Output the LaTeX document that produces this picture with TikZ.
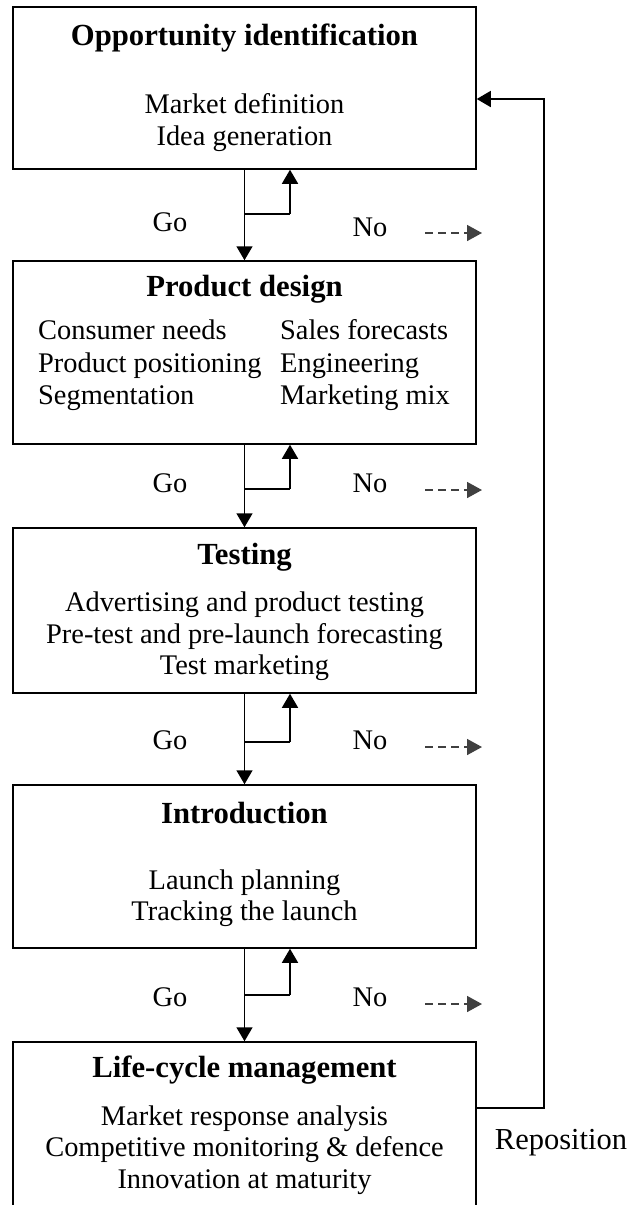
\documentclass[tikz,border=0pt]{standalone}
\usepackage{fontspec}
\setmainfont{Liberation Serif}
\usetikzlibrary{arrows.meta}
\begin{document}
\begin{tikzpicture}[x=1pt,y=-1pt,
  stage/.style={draw, line width=1.5pt, minimum width=463pt, inner sep=0pt},
  ttl/.style={font=\fontsize{30.7}{34}\selectfont\bfseries, inner sep=0pt},
  body/.style={font=\fontsize{28.4}{31.5}\selectfont, align=center, inner sep=0pt},
  col/.style={font=\fontsize{28.4}{32.5}\selectfont, align=left, inner sep=0pt, anchor=west},
  lbl/.style={font=\fontsize{28.4}{31.5}\selectfont, inner sep=0pt},
  flow/.style={line width=1.5pt, -{Triangle[length=14pt,width=16pt]}},
  link/.style={line width=1.5pt},
  noarrow/.style={line width=1.6pt, dash pattern=on 8pt off 5pt, -{Triangle[length=15pt,width=16pt]}, black!75}
]
\useasboundingbox (0,0) rectangle (630,1205);
\clip (0,0) rectangle (630,1205);

% stage boxes
\node[stage, minimum height=162pt] (b1) at (244.5,88) {};
\node[stage, minimum height=183pt] (b2) at (244.5,352.5) {};
\node[stage, minimum height=165pt] (b3) at (244.5,610.5) {};
\node[stage, minimum height=163pt] (b4) at (244.5,866.5) {};
\node[stage, minimum height=180pt] (b5) at (244.5,1132) {};

% texts
\node[ttl] (t1) at (244.5,38) {Opportunity identification};
\node[body] (x1) at (244.5,122.5) {Market definition\\Idea generation};

\node[ttl] (t2) at (244.5,289) {Product design};
\node[col] (x2a) at (38,365.5) {Consumer needs\\Product positioning\\Segmentation};
\node[col] (x2b) at (280,365.5) {Sales forecasts\\Engineering\\Marketing mix};

\node[ttl] (t3) at (244.5,557) {Testing};
\node[body] (x3) at (244.5,636.5) {Advertising and product testing\\Pre-test and pre-launch forecasting\\Test marketing};

\node[ttl] (t4) at (244.5,813) {Introduction};
\node[body] (x4) at (244.5,898) {Launch planning\\Tracking the launch};

\node[ttl] (t5) at (244.5,1070) {Life-cycle management};
\node[body] (x5) at (244.5,1150) {Market response analysis\\Competitive monitoring \& defence\\Innovation at maturity};

% gap 1
\draw[flow] (b1.south) -- (b2.north);
\coordinate (j1) at (244.5,214); \coordinate (k1) at (290,214);
\draw[link] (j1) -- (k1);
\draw[flow] (k1) -- (k1 |- b1.south);
\node[lbl] (go1) at (170,222) {Go};
\node[lbl] (no1) at (370,227) {No};
\coordinate (d1s) at (425,233); \coordinate (d1e) at (482,233);
\draw[noarrow] (d1s) -- (d1e);

% gap 2
\draw[flow] (b2.south) -- (b3.north);
\coordinate (j2) at (244.5,489); \coordinate (k2) at (290,489);
\draw[link] (j2) -- (k2);
\draw[flow] (k2) -- (k2 |- b2.south);
\node[lbl] (go2) at (170,483) {Go};
\node[lbl] (no2) at (370,483) {No};
\coordinate (d2s) at (425,490); \coordinate (d2e) at (482,490);
\draw[noarrow] (d2s) -- (d2e);

% gap 3
\draw[flow] (b3.south) -- (b4.north);
\coordinate (j3) at (244.5,742); \coordinate (k3) at (290,742);
\draw[link] (j3) -- (k3);
\draw[flow] (k3) -- (k3 |- b3.south);
\node[lbl] (go3) at (170,740) {Go};
\node[lbl] (no3) at (370,740) {No};
\coordinate (d3s) at (425,747); \coordinate (d3e) at (482,747);
\draw[noarrow] (d3s) -- (d3e);

% gap 4
\draw[flow] (b4.south) -- (b5.north);
\coordinate (j4) at (244.5,995); \coordinate (k4) at (290,995);
\draw[link] (j4) -- (k4);
\draw[flow] (k4) -- (k4 |- b4.south);
\node[lbl] (go4) at (170,997) {Go};
\node[lbl] (no4) at (370,997) {No};
\coordinate (d4s) at (425,1004); \coordinate (d4e) at (482,1004);
\draw[noarrow] (d4s) -- (d4e);

% reposition loop
\coordinate (r1) at (544,1108); \coordinate (r2) at (544,99);
\draw[flow] (b5.east |- r1) -- (r1) -- (r2) -- (b1.east |- r2);
\node[lbl, font=\fontsize{30.5}{34}\selectfont] (rep) at (561,1143) {Reposition};
\end{tikzpicture}
\end{document}
